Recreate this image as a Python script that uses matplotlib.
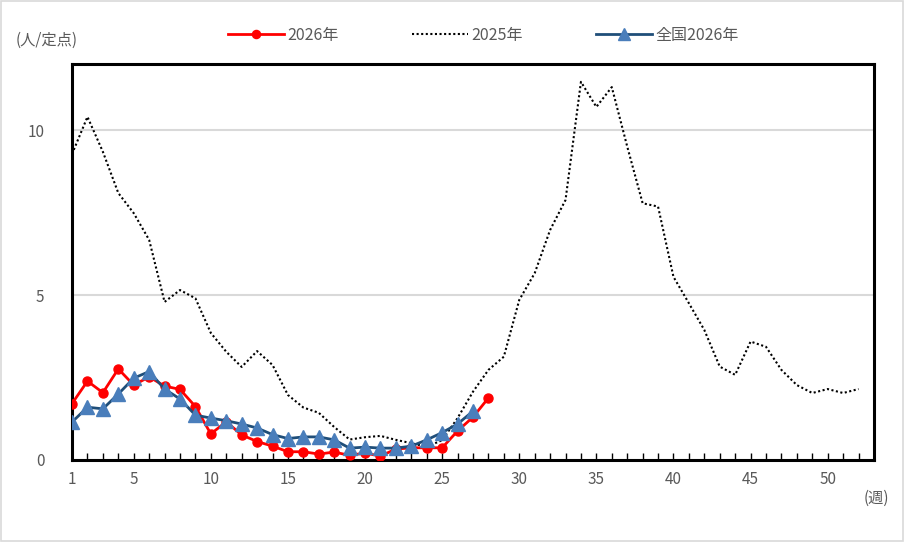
import matplotlib.pyplot as plt

plt.rcParams['font.family'] = ['Noto Sans CJK JP', 'DejaVu Sans']

# 週ごとの定点当たり報告数
weeks_2026 = list(range(1, 29))
val_2026 = [1.71, 2.39, 2.04, 2.76, 2.27, 2.52, 2.24, 2.14, 1.62, 0.79,
            1.16, 0.76, 0.56, 0.42, 0.25, 0.25, 0.18, 0.24, 0.14, 0.21,
            0.12, 0.33, 0.37, 0.37, 0.37, 0.88, 1.30, 1.88]

weeks_2025 = list(range(1, 53))
val_2025 = [9.27, 10.4, 9.34, 8.09, 7.48, 6.67, 4.79, 5.15, 4.90, 3.85,
            3.28, 2.82, 3.30, 2.88, 1.97, 1.59, 1.43, 1.00, 0.62, 0.69,
            0.73, 0.61, 0.51, 0.40, 0.60, 1.27, 2.07, 2.73, 3.13, 4.85,
            5.66, 6.97, 7.88, 11.46, 10.7, 11.3, 9.5, 7.78, 7.68, 5.55,
            4.75, 3.94, 2.83, 2.58, 3.59, 3.43, 2.73, 2.27, 2.03, 2.15,
            2.03, 2.15]

weeks_nat = list(range(1, 28))
val_nat = [1.15, 1.60, 1.55, 2.00, 2.48, 2.68, 2.15, 1.85, 1.36, 1.27,
           1.19, 1.09, 0.97, 0.77, 0.65, 0.70, 0.70, 0.61, 0.36, 0.39,
           0.36, 0.36, 0.42, 0.61, 0.83, 1.09, 1.48]

xticks = [1, 5, 10, 15, 20, 25, 30, 35, 40, 45, 50]
yticks = [0, 5, 10]

fig = plt.figure(figsize=(9.05, 5.42), dpi=100)
fig.patches.append(plt.Rectangle((0.001, 0.001), 0.997, 0.997, transform=fig.transFigure,
                                 fill=False, edgecolor='#d9d9d9', linewidth=1.2))
ax = fig.add_axes([0.0796, 0.1513, 0.8861, 0.7306])

ax.plot(weeks_2026, val_2026, color='#ff0000', linewidth=2, marker='o',
        markersize=6.5, label='2026年', zorder=3)
ax.plot(weeks_2025, val_2025, color='black', linewidth=1.5, linestyle=(0, (1, 1.2)),
        label='2025年', zorder=4)
ax.plot(weeks_nat, val_nat, color='#1f4e79', linewidth=2, marker='^',
        markersize=10, markerfacecolor='#4a7ebb', markeredgecolor='#4a7ebb',
        label='全国2026年', zorder=5)

ax.set_xlim(1, 53)
ax.set_ylim(0, 12)
ax.set_xticks(xticks)
ax.set_xticks(range(1, 53), minor=True)
ax.set_yticks(yticks)
ax.tick_params(axis='x', which='both', direction='in', length=5, width=1,
               colors='black', labelcolor='#595959', labelsize=11, pad=8)
ax.tick_params(axis='y', length=0, labelcolor='#595959', labelsize=11, pad=20)
ax.grid(axis='y', color='#d9d9d9', linewidth=1.5)
ax.set_axisbelow(True)
for s in ax.spines.values():
    s.set_linewidth(2.2)
    s.set_color('black')

fig.text(0.017, 0.926, '(人/定点)', fontsize=11, color='#595959', va='center')
fig.text(0.954, 0.080, '(週)', fontsize=11, color='#595959', va='center')

handles, labels = ax.get_legend_handles_labels()
fig.legend(handles, labels, loc='center', bbox_to_anchor=(0.534, 0.935), ncol=3,
           frameon=False, fontsize=11.5, handlelength=3.5, columnspacing=4.6,
           handletextpad=0.2, labelcolor='#595959', markerscale=0.9)

fig.savefig('out.png', dpi=100)
